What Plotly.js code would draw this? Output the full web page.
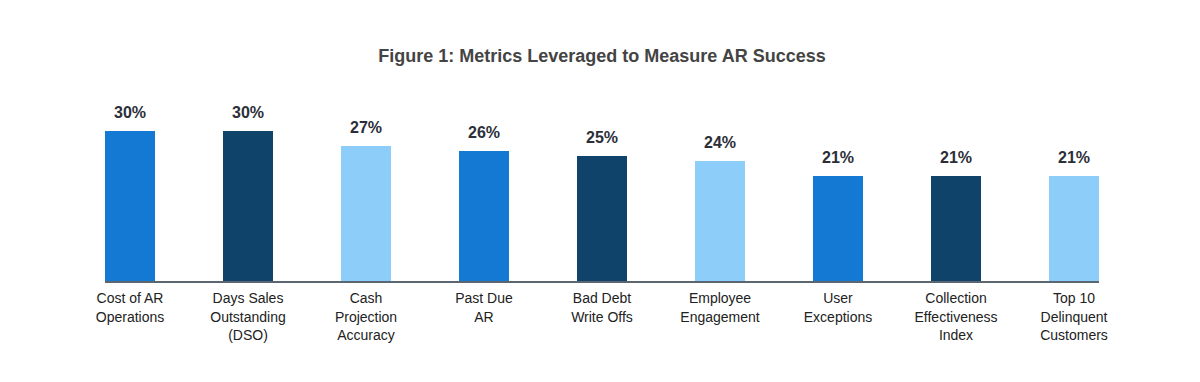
<!DOCTYPE html>
<html>
<head>
<meta charset="utf-8">
<script src="https://cdn.plot.ly/plotly-3.0.1.min.js"></script>
<style>html,body{margin:0;padding:0;background:#fff;}#chart{width:1200px;height:382px;}</style>
</head>
<body>
<div id="chart"></div>
<script>
const categories = [
  "Cost of AR<br>Operations",
  "Days Sales<br>Outstanding<br>(DSO)",
  "Cash<br>Projection<br>Accuracy",
  "Past Due<br>AR",
  "Bad Debt<br>Write Offs",
  "Employee<br>Engagement",
  "User<br>Exceptions",
  "Collection<br>Effectiveness<br>Index",
  "Top 10<br>Delinquent<br>Customers"
];
const values = [30, 30, 27, 26, 25, 24, 21, 21, 21];
const labels = ["30%", "30%", "27%", "26%", "25%", "24%", "21%", "21%", "21%"];
const barColors = ["#1479D2", "#0F436A", "#8CCEF9", "#1479D2", "#0F436A", "#8CCEF9", "#1479D2", "#0F436A", "#8CCEF9"];

const trace = {
  type: "bar",
  x: categories,
  y: values,
  marker: {color: barColors, line: {width: 0}},
  width: 0.4237,
  hoverinfo: "skip"
};

const annotations = categories.map((c, i) => ({
  x: c, y: values[i], xref: "x", yref: "y",
  text: "<b>" + labels[i] + "</b>",
  showarrow: false, yanchor: "bottom", yshift: 8,
  font: {family: "Liberation Sans, Arial, sans-serif", size: 16, color: "#2B2E38"}
}));

const layout = {
  width: 1200, height: 382,
  paper_bgcolor: "#fff", plot_bgcolor: "#fff",
  margin: {l: 105, r: 101, t: 111, b: 101},
  title: {
    text: "<b>Figure 1: Metrics Leveraged to Measure AR Success</b>",
    x: 0.5, xref: "paper", y: 50, yref: "container", yanchor: "middle",
    font: {family: "Liberation Sans, Arial, sans-serif", size: 18, color: "#444444"}
  },
  xaxis: {
    type: "category", range: [-0.2119, 8.2119],
    showline: true, linecolor: "#5B6670", linewidth: 1.5,
    ticks: "", showgrid: false, zeroline: false,
    tickfont: {family: "Liberation Sans, Arial, sans-serif", size: 14, color: "#222222"},
    ticklabelstandoff: 4
  },
  yaxis: {
    range: [0, 34], visible: false, showgrid: false, zeroline: false
  },
  annotations: annotations,
  showlegend: false,
  bargap: 0
};

Plotly.newPlot("chart", [trace], layout, {displayModeBar: false, staticPlot: true});
</script>
</body>
</html>
